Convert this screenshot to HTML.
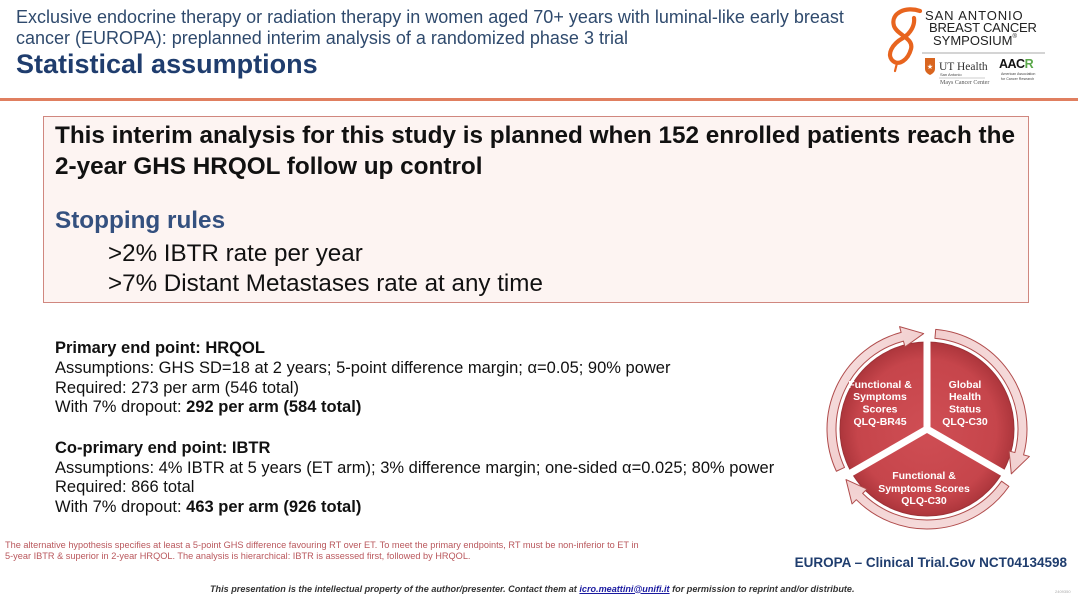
<!DOCTYPE html>
<html>
<head>
<meta charset="utf-8">
<style>
  html,body{margin:0;padding:0;background:#fff;}
  body{width:1080px;height:599px;position:relative;overflow:hidden;font-family:"Liberation Sans",Arial,sans-serif;}
  .t{position:absolute;white-space:nowrap;line-height:1;}
</style>
</head>
<body>

<!-- Header -->
<div class="t" style="left:16px;top:8px;font-size:18px;color:#2f4a6d;">Exclusive endocrine therapy or radiation therapy in women aged 70+ years with luminal-like early breast</div>
<div class="t" style="left:16px;top:29px;font-size:18px;color:#2f4a6d;">cancer (EUROPA): preplanned interim analysis of a randomized phase 3 trial</div>
<div class="t" style="left:16px;top:50.5px;font-size:27px;font-weight:bold;color:#1f3d6e;">Statistical assumptions</div>

<!-- Orange rule -->
<div style="position:absolute;left:0;top:98px;width:1078px;height:3px;background:#e07f60;"></div>

<!-- Logo -->
<svg style="position:absolute;left:0;top:0" width="1080" height="100" viewBox="0 0 1080 100">
  <path d="M920,11 C906,6 890,13 894,26 C897,35 914,38 911,49 C908,60 899,66 893,61 C886,55 892,44 903,38 C911,33 915,25 914,18" fill="none" stroke="#e8641e" stroke-width="4.2" stroke-linecap="round"/>
  <path d="M897,63 L895,71" fill="none" stroke="#e8641e" stroke-width="2.2" stroke-linecap="round"/>
  <line x1="922" y1="53" x2="1045" y2="53" stroke="#aaaaaa" stroke-width="1"/>
  <!-- UT shield -->
  <path d="M925,58 L935,58 L935,69 C935,73 930,75 930,75 C930,75 925,73 925,69 Z" fill="#d9651f"/>
  <text x="930" y="69" font-size="7" fill="#fff" text-anchor="middle" font-family="Liberation Sans, sans-serif">★</text>
  <text x="939" y="70" font-size="11.5" fill="#333" font-family="Liberation Serif, serif">UT Health</text>
  <text x="940" y="76" font-size="4" fill="#444" font-family="Liberation Sans, sans-serif">San Antonio</text>
  <line x1="939" y1="78" x2="985" y2="78" stroke="#999" stroke-width="0.6"/>
  <text x="940" y="84" font-size="6" fill="#555" font-family="Liberation Serif, serif">Mays Cancer Center</text>
  <text x="999" y="68" font-size="12.5" font-weight="bold" fill="#111" font-family="Liberation Sans, sans-serif" letter-spacing="-0.5">AAC<tspan fill="#5aa84a">R</tspan></text>
  <text x="1001" y="75" font-size="3.6" fill="#444" font-family="Liberation Sans, sans-serif">American Association</text>
  <text x="1001" y="80" font-size="3.6" fill="#444" font-family="Liberation Sans, sans-serif">for Cancer Research</text>
</svg>
<div class="t" style="left:925px;top:8.5px;font-size:13px;color:#222;letter-spacing:0.9px;">SAN ANTONIO</div>
<div class="t" style="left:929px;top:21px;font-size:13px;color:#222;letter-spacing:-0.2px;">BREAST CANCER</div>
<div class="t" style="left:933px;top:34px;font-size:13px;color:#222;">SYMPOSIUM<span style="font-size:6px;vertical-align:top;">®</span></div>

<!-- Box -->
<div style="position:absolute;left:43px;top:116px;width:984px;height:185px;background:#fdf4f2;border:1px solid #d0877f;"></div>
<div class="t" style="left:55px;top:124px;font-size:24.3px;font-weight:bold;color:#111;">This interim analysis for this study is planned when 152 enrolled patients reach the</div>
<div class="t" style="left:55px;top:155px;font-size:24.3px;font-weight:bold;color:#111;">2-year GHS HRQOL follow up control</div>
<div class="t" style="left:55px;top:209px;font-size:24.3px;font-weight:bold;color:#34507f;">Stopping rules</div>
<div class="t" style="left:108px;top:242px;font-size:24.2px;color:#111;">&gt;2% IBTR rate per year</div>
<div class="t" style="left:108px;top:272px;font-size:24.2px;color:#111;">&gt;7% Distant Metastases rate at any time</div>

<!-- Lower text -->
<div class="t" style="left:55px;top:340px;font-size:16.5px;font-weight:bold;color:#111;">Primary end point: HRQOL</div>
<div class="t" style="left:55px;top:360px;font-size:16.5px;color:#111;">Assumptions: GHS SD=18 at 2 years; 5-point difference margin; α=0.05; 90% power</div>
<div class="t" style="left:55px;top:380px;font-size:16.5px;color:#111;">Required: 273 per arm (546 total)</div>
<div class="t" style="left:55px;top:399px;font-size:16.5px;color:#111;">With 7% dropout: <b>292 per arm (584 total)</b></div>
<div class="t" style="left:55px;top:439.5px;font-size:16.5px;font-weight:bold;color:#111;">Co-primary end point: IBTR</div>
<div class="t" style="left:55px;top:459.5px;font-size:16.5px;color:#111;">Assumptions: 4% IBTR at 5 years (ET arm); 3% difference margin; one-sided α=0.025; 80% power</div>
<div class="t" style="left:55px;top:479px;font-size:16.5px;color:#111;">Required: 866 total</div>
<div class="t" style="left:55px;top:499px;font-size:16.5px;color:#111;">With 7% dropout: <b>463 per arm (926 total)</b></div>

<!-- Circle diagram -->
<svg style="position:absolute;left:0;top:0" width="1080" height="599" viewBox="0 0 1080 599">
  <defs>
    <radialGradient id="rg" cx="50%" cy="50%" r="50%">
      <stop offset="0%" stop-color="#cf4e54"/>
      <stop offset="80%" stop-color="#c6454b"/>
      <stop offset="100%" stop-color="#ad363c"/>
    </radialGradient>
    <linearGradient id="ag" x1="0" y1="0" x2="1" y2="1">
      <stop offset="0%" stop-color="#f8e4e4"/>
      <stop offset="100%" stop-color="#ecbcbc"/>
    </linearGradient>
  </defs>
  <circle cx="927" cy="429" r="87" fill="url(#rg)" stroke="#9e3237" stroke-width="1"/>
  <g stroke="#ffffff" stroke-width="7" stroke-linecap="butt">
    <line x1="927" y1="429" x2="927" y2="337"/>
    <line x1="927" y1="429" x2="1006.7" y2="475"/>
    <line x1="927" y1="429" x2="847.3" y2="475"/>
  </g>
  <g fill="url(#ag)" stroke="#b04c4c" stroke-width="1" stroke-linejoin="round">
    <path d="M836.37,471.26 A100,100 0 0,1 901.12,332.41 L899.57,326.61 L923.67,333.56 L905.00,346.90 L903.45,341.10 A91,91 0 0,0 844.53,467.46 Z"/>
    <path transform="rotate(120 927 429)" d="M836.37,471.26 A100,100 0 0,1 901.12,332.41 L899.57,326.61 L923.67,333.56 L905.00,346.90 L903.45,341.10 A91,91 0 0,0 844.53,467.46 Z"/>
    <path transform="rotate(240 927 429)" d="M836.37,471.26 A100,100 0 0,1 901.12,332.41 L899.57,326.61 L923.67,333.56 L905.00,346.90 L903.45,341.10 A91,91 0 0,0 844.53,467.46 Z"/>
  </g>
  <g fill="#ffffff" font-family="Liberation Sans, sans-serif" font-weight="bold" font-size="10.5" text-anchor="middle">
    <text x="880" y="388">Functional &amp;</text>
    <text x="880" y="400">Symptoms</text>
    <text x="880" y="412.5">Scores</text>
    <text x="880" y="425">QLQ-BR45</text>
    <text x="965" y="388">Global</text>
    <text x="965" y="400">Health</text>
    <text x="965" y="412.5">Status</text>
    <text x="965" y="425">QLQ-C30</text>
    <text x="924" y="479">Functional &amp;</text>
    <text x="924" y="492">Symptoms Scores</text>
    <text x="924" y="504">QLQ-C30</text>
  </g>
</svg>

<!-- Footnotes -->
<div class="t" style="left:5px;top:540.5px;font-size:9.2px;color:#b9575c;">The alternative hypothesis specifies at least a 5-point GHS difference favouring RT over ET. To meet the primary endpoints, RT must be non-inferior to ET in</div>
<div class="t" style="left:5px;top:551.5px;font-size:9.2px;color:#b9575c;">5-year IBTR &amp; superior in 2-year HRQOL. The analysis is hierarchical: IBTR is assessed first, followed by HRQOL.</div>
<div class="t" style="right:13px;top:556px;font-size:13.5px;font-weight:bold;color:#1f3d6e;">EUROPA – Clinical Trial.Gov NCT04134598</div>
<div class="t" style="left:210px;top:584.5px;font-size:9.1px;font-weight:bold;font-style:italic;color:#333;">This presentation is the intellectual property of the author/presenter. Contact them at <span style="color:#1a1aa0;text-decoration:underline;">icro.meattini@unifi.it</span> for permission to reprint and/or distribute.</div>
<div class="t" style="left:1055px;top:590px;font-size:4px;color:#aaa;">2409350</div>

</body>
</html>
